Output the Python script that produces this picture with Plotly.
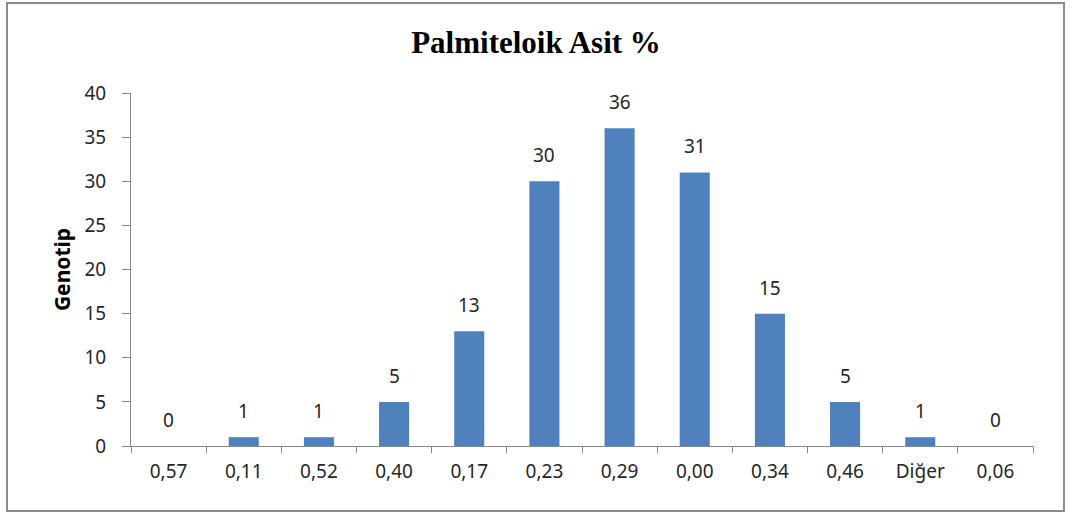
import plotly.graph_objects as go

categories = ["0,57", "0,11", "0,52", "0,40", "0,17", "0,23", "0,29", "0,00", "0,34", "0,46", "Diğer", "0,06"]
values = [0, 1, 1, 5, 13, 30, 36, 31, 15, 5, 1, 0]
y_ticks = [0, 5, 10, 15, 20, 25, 30, 35, 40]

W, H = 1072, 513
L, R, T, B = 131, 39, 93, 67
pw, ph = W - L - R, H - T - B

def px_x(p):
    return (p - L) / pw

def px_y(p):
    return (H - B - p) / ph

text_color = "#262626"
axis_color = "#868686"
font_family = "Noto Sans"

fig = go.Figure(go.Bar(
    x=categories, y=values,
    marker=dict(color="#4F81BD", line=dict(width=0)),
    width=0.4,
    hoverinfo="x+y",
))

annotations = [
    dict(x=c, y=v, xref="x", yref="y", text=str(v), showarrow=False,
         yanchor="middle", yshift=26,
         font=dict(family=font_family, size=19, color=text_color))
    for c, v in zip(categories, values)
]

fig.update_layout(
    width=W, height=H,
    margin=dict(l=L, r=R, t=T, b=B),
    paper_bgcolor="white", plot_bgcolor="white",
    showlegend=False,
    title=dict(text="<b>Palmiteloik Asit %</b>", x=0.5, xanchor="center",
               y=1 - 42 / H, yanchor="middle",
               font=dict(family="Liberation Serif", size=31, color="black")),
    xaxis=dict(
        type="category", showgrid=False, showline=True, linecolor=axis_color, linewidth=1,
        ticks="outside", tickson="boundaries", ticklen=6, tickcolor=axis_color,
        ticklabelstandoff=8,
        tickfont=dict(family=font_family, size=19, color=text_color),
    ),
    yaxis=dict(
        range=[0, 40], tickvals=y_ticks, showgrid=False, zeroline=False,
        showline=True, linecolor=axis_color, linewidth=1,
        ticks="outside", ticklen=8, tickcolor=axis_color,
        ticklabelstandoff=12,
        tickfont=dict(family=font_family, size=19, color=text_color),
        title=dict(text="<b>Genotip</b>", font=dict(family=font_family, size=21, color="black"), standoff=8),
    ),
    annotations=annotations,
    shapes=[dict(type="rect", xref="paper", yref="paper",
                 x0=px_x(7), x1=px_x(1064), y0=px_y(511), y1=px_y(3),
                 line=dict(color="#8C8C8C", width=2), fillcolor="rgba(0,0,0,0)", layer="below")],
)

fig.write_html("out.html", config={"displayModeBar": False},
               post_script="document.body.style.margin='0';document.body.style.overflow='hidden';")
